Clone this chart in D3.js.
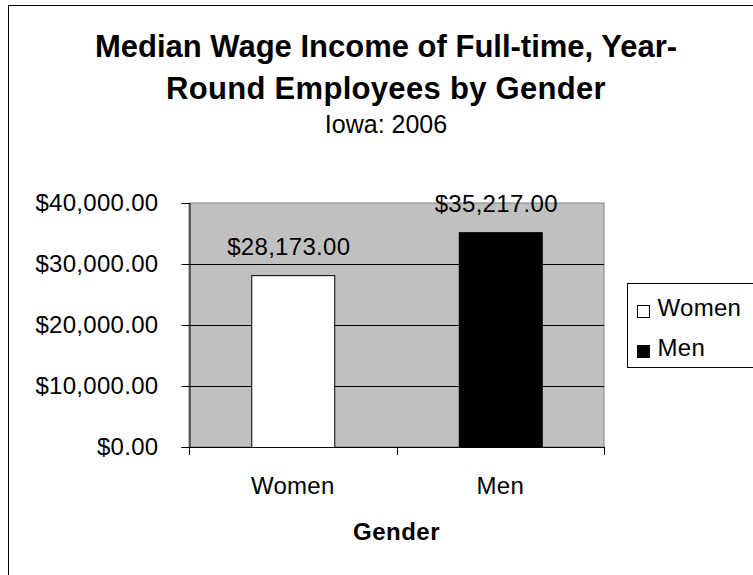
<!DOCTYPE html>
<html>
<head>
<meta charset="utf-8">
<script src="https://cdn.jsdelivr.net/npm/d3@7"></script>
<style>
  body { margin: 0; background: #fff; }
  svg text { font-family: "Liberation Sans", Arial, sans-serif; fill: #000; }
</style>
</head>
<body>
<div id="chart"></div>
<script>
// datos del grafico
const categories = ["Women", "Men"];
const wages = [28173, 35217];
const barColors = ["#ffffff", "#000000"];
const yTicks = [0, 10000, 20000, 30000, 40000];

const width = 753, height = 575;
const plot = { left: 189, right: 604, top: 203, bottom: 447 };

const svg = d3.select("#chart").append("svg")
  .attr("width", width).attr("height", height);

// borde exterior
svg.append("rect")
  .attr("x", 8.5).attr("y", 5.5)
  .attr("width", 780).attr("height", 600)
  .attr("fill", "#fff").attr("stroke", "#000");

// titulo
svg.append("text").attr("x", 386).attr("y", 57)
  .attr("text-anchor", "middle").style("font-size", "31px").style("font-weight", "bold")
  .text("Median Wage Income of Full-time, Year-");
svg.append("text").attr("x", 386).attr("y", 99)
  .attr("text-anchor", "middle").style("font-size", "31px").style("font-weight", "bold")
  .style("letter-spacing", "0.3px")
  .text("Round Employees by Gender");
svg.append("text").attr("x", 386).attr("y", 133)
  .attr("text-anchor", "middle").style("font-size", "25px")
  .text("Iowa: 2006");

const x = d3.scaleBand().domain(categories)
  .range([plot.left, plot.right]).paddingInner(0.6).paddingOuter(0.3);
const y = d3.scaleLinear().domain([0, 40000]).range([plot.bottom, plot.top]);

// area del grafico
svg.append("rect")
  .attr("x", plot.left).attr("y", plot.top)
  .attr("width", plot.right - plot.left).attr("height", plot.bottom - plot.top)
  .attr("fill", "#c0c0c0").attr("stroke", "#808080");

// lineas de cuadricula
svg.append("g").selectAll("line")
  .data(yTicks.filter(d => d > 0 && d < 40000))
  .join("line")
  .attr("x1", plot.left).attr("x2", plot.right)
  .attr("y1", d => y(d) + 0.5).attr("y2", d => y(d) + 0.5)
  .attr("stroke", "#000");

// barras
svg.append("g").selectAll("rect")
  .data(categories)
  .join("rect")
  .attr("x", d => x(d) + 0.5)
  .attr("y", (d, i) => y(wages[i]) + 0.5)
  .attr("width", x.bandwidth())
  .attr("height", (d, i) => y(0) - y(wages[i]))
  .attr("fill", (d, i) => barColors[i])
  .attr("stroke", "#000");

// etiquetas de valores
const fmt = d3.format("$,.2f");
svg.append("g").selectAll("text")
  .data(categories)
  .join("text")
  .attr("x", d => x(d) + x.bandwidth() / 2 - 4)
  .attr("y", (d, i) => y(wages[i]) - 20)
  .attr("text-anchor", "middle")
  .style("font-size", "24px").style("letter-spacing", "0.3px")
  .text((d, i) => fmt(wages[i]));

// eje Y
const yAxis = svg.append("g")
  .attr("transform", `translate(${plot.left + 0.5},0)`)
  .call(d3.axisLeft(y).tickValues(yTicks).tickFormat(fmt).tickSize(8).tickPadding(23));
yAxis.select(".domain").attr("stroke", "#000");
yAxis.selectAll(".tick line").attr("stroke", "#000");
yAxis.selectAll("text").style("font-size", "24px").style("letter-spacing", "0.3px")
  .style("font-family", "Liberation Sans, Arial, sans-serif").attr("fill", "#000");

// eje X
const xAxis = svg.append("g")
  .attr("transform", `translate(0,${plot.bottom + 0.5})`)
  .call(d3.axisBottom(x).tickSize(0).tickPadding(29));
xAxis.select(".domain").remove();
xAxis.selectAll("text").style("font-size", "24px").style("letter-spacing", "0.3px")
  .style("font-family", "Liberation Sans, Arial, sans-serif").attr("fill", "#000");
svg.append("line")
  .attr("x1", plot.left).attr("x2", plot.right + 1)
  .attr("y1", plot.bottom + 0.5).attr("y2", plot.bottom + 0.5)
  .attr("stroke", "#000");
const bounds = [plot.left].concat(categories.map(d => x(d) + x.bandwidth() + x.step() * x.paddingInner() / 2));
bounds[bounds.length - 1] = plot.right;
svg.append("g").selectAll("line")
  .data(bounds)
  .join("line")
  .attr("x1", d => Math.round(d) + 0.5).attr("x2", d => Math.round(d) + 0.5)
  .attr("y1", plot.bottom).attr("y2", plot.bottom + 8)
  .attr("stroke", "#000");

// titulo del eje X
svg.append("text")
  .attr("x", (plot.left + plot.right) / 2).attr("y", 540)
  .attr("text-anchor", "middle")
  .style("font-size", "24px").style("font-weight", "bold").style("letter-spacing", "0.5px")
  .text("Gender");

// leyenda
const legend = svg.append("g").attr("transform", "translate(627.5,283.5)");
legend.append("rect").attr("width", 140).attr("height", 84)
  .attr("fill", "#fff").attr("stroke", "#000");
const items = legend.selectAll("g")
  .data(categories)
  .join("g")
  .attr("transform", (d, i) => `translate(0,${i * 40})`);
items.append("rect")
  .attr("x", 10).attr("y", 22).attr("width", 12).attr("height", 12)
  .attr("fill", (d, i) => barColors[i]).attr("stroke", "#000");
items.append("text")
  .attr("x", 30).attr("y", 32)
  .style("font-size", "24px").style("letter-spacing", "0.3px")
  .text(d => d);
</script>
</body>
</html>
